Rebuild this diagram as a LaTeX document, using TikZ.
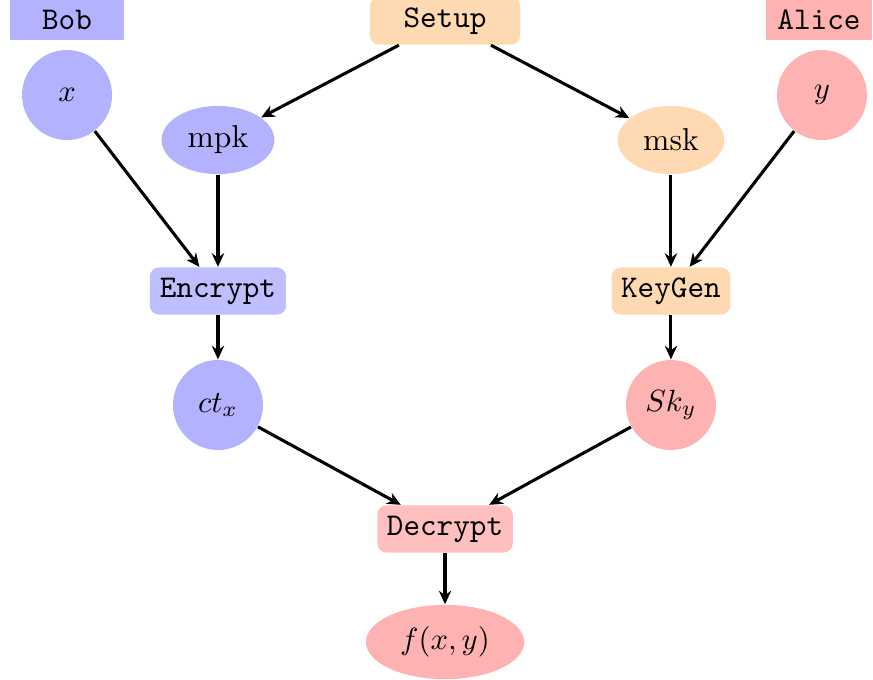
\documentclass[tikz,border=0pt]{standalone}
\usetikzlibrary{shapes.geometric,arrows.meta}
\begin{document}
\fontsize{10.3}{12.4}\selectfont
\begin{tikzpicture}[
  party/.style={rectangle, inner sep=0pt, minimum width=1.30cm, minimum height=0.46cm, font=\ttfamily},
  algo/.style={rectangle, rounded corners=3pt, inner sep=0pt, minimum height=0.54cm, font=\ttfamily},
  val/.style={circle, inner sep=0pt, minimum size=1.03cm},
  key/.style={ellipse, inner sep=0pt},
  link/.style={-{Stealth[length=4.4pt,width=4pt]}, line width=1pt}
]
\useasboundingbox (0,0) rectangle (9.989,-7.780);

% parties
\node[party, fill=blue!30] (bob) at (0.767,-0.229) {Bob};
\node[party, fill=red!30, minimum width=1.22cm] (alice) at (9.371,-0.229) {Alice};

% algorithms
\node[algo, fill=orange!30, minimum width=1.72cm] (setup) at (5.092,-0.240) {Setup};
\node[algo, fill=blue!25, minimum width=1.56cm] (enc) at (2.494,-3.330) {Encrypt};
\node[algo, fill=orange!30, minimum width=1.36cm] (kg) at (7.677,-3.330) {KeyGen};
\node[algo, fill=red!25, minimum width=1.55cm] (dec) at (5.092,-6.053) {Decrypt};

% inputs and keys
\node[val, fill=blue!30] (x) at (0.767,-1.087) {$x$};
\node[val, fill=red!30] (y) at (9.405,-1.087) {$y$};
\node[key, fill=blue!30, minimum width=1.29cm, minimum height=0.78cm] (mpk) at (2.494,-1.602) {mpk};
\node[key, fill=orange!30, minimum width=1.22cm, minimum height=0.78cm] (msk) at (7.677,-1.602) {msk};
\node[val, fill=blue!30] (ct) at (2.494,-4.634) {$ct_x$};
\node[val, fill=red!30] (sk) at (7.677,-4.634) {$Sk_y$};
\node[key, fill=red!30, minimum width=1.81cm, minimum height=0.85cm] (f) at (5.092,-7.346) {$f(x,y)$};

% data flow
\draw[link] (setup) -- (mpk);
\draw[link] (setup) -- (msk);
\draw[link] (x) -- (enc);
\draw[link] (mpk) -- (enc);
\draw[link] (y) -- (kg);
\draw[link] (msk) -- (kg);
\draw[link] (enc) -- (ct);
\draw[link] (kg) -- (sk);
\draw[link] (ct) -- (dec);
\draw[link] (sk) -- (dec);
\draw[link] (dec) -- (f);
\end{tikzpicture}
\end{document}
